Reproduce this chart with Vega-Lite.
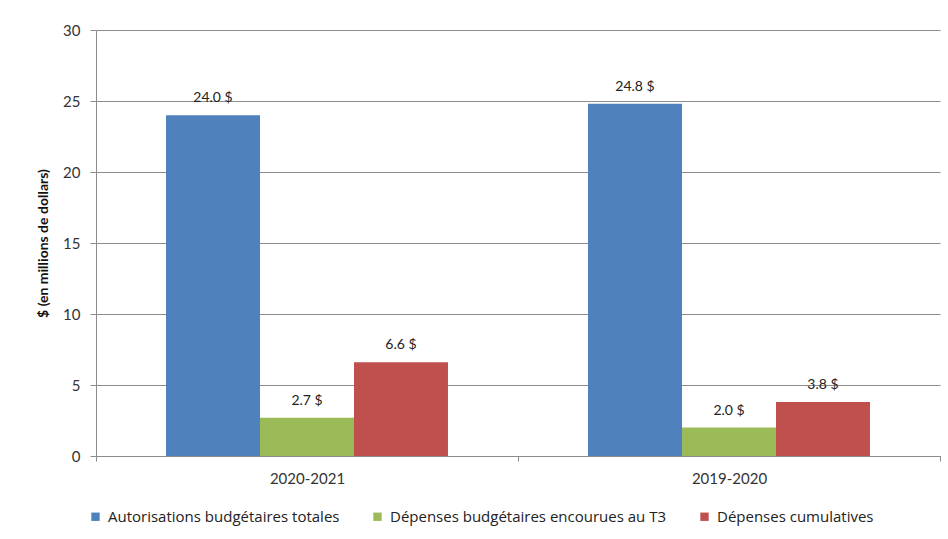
{
  "$schema": "https://vega.github.io/schema/vega-lite/v6.json",
  "width": 844,
  "height": 426,
  "autosize": {"type": "none"},
  "padding": {"left": 96, "top": 30, "right": 8, "bottom": 83},
  "background": "white",
  "config": {
    "font": "Lato",
    "view": {"stroke": null},
    "axis": {"labelColor": "#333333", "domainColor": "#8c8c8c", "tickColor": "#8c8c8c", "gridColor": "#8c8c8c"}
  },
  "data": {
    "values": [
      {"annee": "2020-2021", "serie": "Autorisations budgétaires totales", "valeur": 24.0, "label": "24.0 $"},
      {"annee": "2020-2021", "serie": "Dépenses budgétaires encourues au T3", "valeur": 2.7, "label": "2.7 $"},
      {"annee": "2020-2021", "serie": "Dépenses cumulatives", "valeur": 6.6, "label": "6.6 $"},
      {"annee": "2019-2020", "serie": "Autorisations budgétaires totales", "valeur": 24.8, "label": "24.8 $"},
      {"annee": "2019-2020", "serie": "Dépenses budgétaires encourues au T3", "valeur": 2.0, "label": "2.0 $"},
      {"annee": "2019-2020", "serie": "Dépenses cumulatives", "valeur": 3.8, "label": "3.8 $"}
    ]
  },
  "encoding": {
    "x": {
      "field": "annee", "type": "nominal", "sort": ["2020-2021", "2019-2020"],
      "scale": {"paddingInner": 0, "paddingOuter": 0},
      "axis": {"title": null, "labelAngle": 0, "labelFontSize": 15, "labelPadding": 10, "tickBand": "extent", "tickSize": 5, "grid": false}
    },
    "xOffset": {"field": "serie", "type": "nominal", "sort": ["Autorisations budgétaires totales", "Dépenses budgétaires encourues au T3", "Dépenses cumulatives"], "scale": {"paddingInner": 0, "paddingOuter": 0.745}},
    "y": {
      "field": "valeur", "type": "quantitative",
      "scale": {"domain": [0, 30]},
      "axis": {"title": "$ (en millions de dollars)", "titleFontSize": 14, "titleFontWeight": "bold", "titleColor": "#111111", "titlePadding": 12, "values": [0, 5, 10, 15, 20, 25, 30], "labelFontSize": 15, "labelPadding": 10, "tickSize": 6, "grid": true}
    }
  },
  "layer": [
    {
      "mark": {"type": "bar"},
      "encoding": {
        "color": {
          "field": "serie", "type": "nominal",
          "sort": ["Autorisations budgétaires totales", "Dépenses budgétaires encourues au T3", "Dépenses cumulatives"],
          "scale": {"range": ["#4F81BD", "#9BBB59", "#C0504D"]},
          "legend": {"title": null, "orient": "none", "legendX": -8, "legendY": 479, "direction": "horizontal", "symbolType": "square", "symbolSize": 70, "symbolStrokeWidth": 0, "labelFont": "Open Sans", "labelFontSize": 15, "labelLimit": 0, "labelColor": "#222222", "columnPadding": 30, "labelOffset": 5}
        }
      }
    },
    {
      "mark": {"type": "text", "baseline": "bottom", "dy": -10, "fontSize": 14, "color": "#222222"},
      "encoding": {"text": {"field": "label"}}
    }
  ]
}
